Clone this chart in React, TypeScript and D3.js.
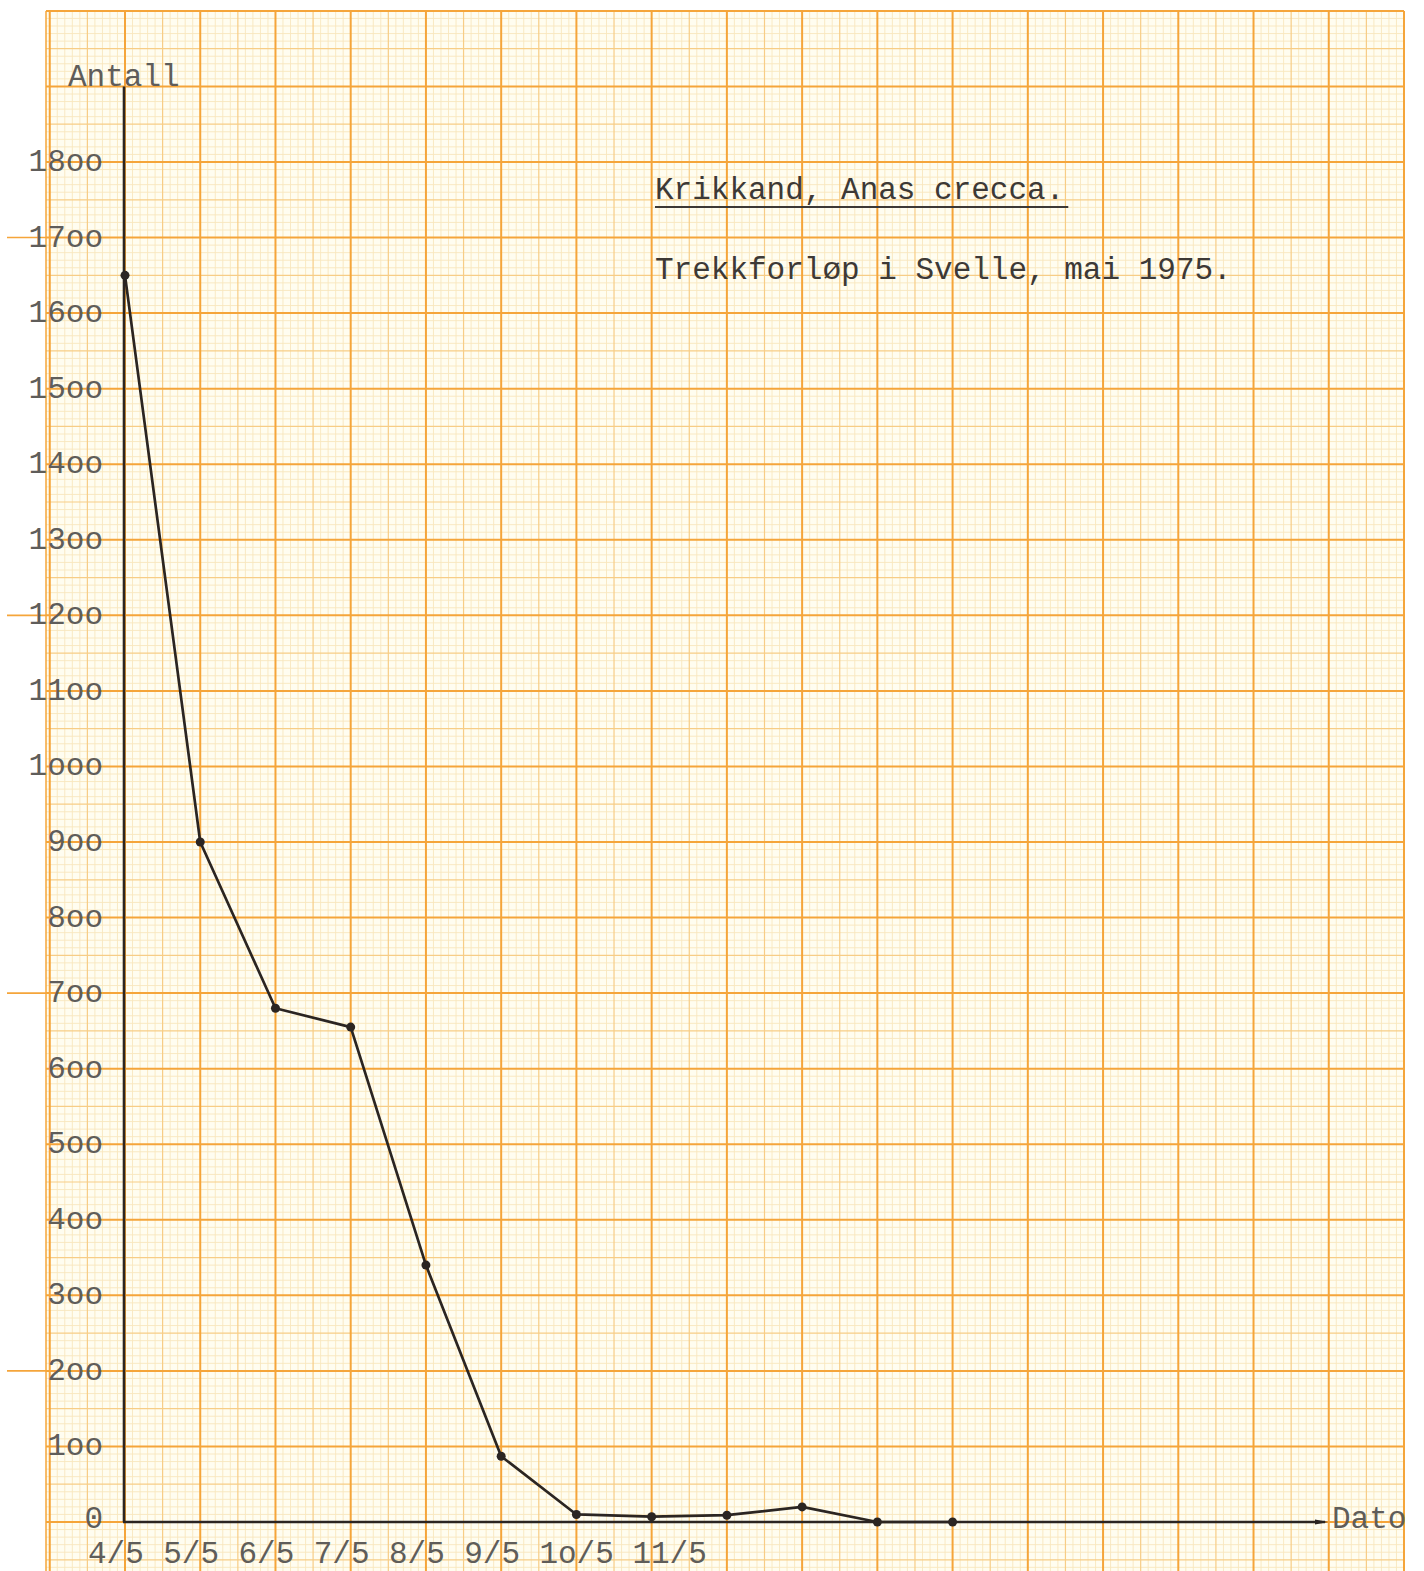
import React, { useEffect, useRef } from "react";
import * as d3 from "d3";

// observation days in May 1975 and counted birds
const days = [4, 5, 6, 7, 8, 9, 10, 11, 12, 13, 14, 15];
const counts = [1650, 900, 680, 655, 340, 87, 10, 7, 9, 20, 0, 0];

// typed labels (the typewriter used "o" for zero)
const xTickDays = [4, 5, 6, 7, 8, 9, 10, 11];
const xTickLabels = ["4/5", "5/5", "6/5", "7/5", "8/5", "9/5", "1o/5", "11/5"];
const yTicks = [100, 200, 300, 400, 500, 600, 700, 800, 900, 1000, 1100, 1200, 1300, 1400, 1500, 1600, 1700, 1800];
const yTickLabels = ["1oo", "2oo", "3oo", "4oo", "5oo", "6oo", "7oo", "8oo", "9oo", "1ooo", "11oo", "12oo", "13oo", "14oo", "15oo", "16oo", "17oo", "18oo"];
const marginMarks = [1700, 1200, 700, 200];

const W = 1424;
const H = 1571;
const FONT = "'Liberation Mono', 'DejaVu Sans Mono', monospace";
const PITCH = 18.6; // one typewriter character at 31px

const App = () => {
  const ref = useRef<SVGSVGElement | null>(null);

  useEffect(() => {
    drawChart();
    //eslint-disable-next-line
  }, []);

  function drawChart() {
    const svg = d3.select(ref.current);
    svg.selectAll("*").remove();

    const x = d3.scaleLinear().domain([4, 21]).range([125, 1404]);
    const y = d3.scaleLinear().domain([0, 1800]).range([1522, 162]);

    const paperLeft = 46;
    const paperTop = y(2000);
    const paperRight = x(21);

    svg.append("rect").attr("width", W).attr("height", H).attr("fill", "#ffffff");
    svg
      .append("rect")
      .attr("x", paperLeft)
      .attr("y", paperTop)
      .attr("width", paperRight - paperLeft)
      .attr("height", H - paperTop)
      .attr("fill", "#fffdf0");

    // graph paper: fine, half and main lines
    const grid = svg.append("g");
    const hVals = d3.range(-60, 2001, 10);
    const vVals = d3.range(30, 211, 1).map((d) => d / 10);

    const style = (i: number) =>
      i % 10 === 0
        ? { c: "#f5a53a", w: 2 }
        : i % 5 === 0
        ? { c: "#f7cd86", w: 1.2 }
        : { c: "#f8e7bd", w: 0.9 };

    const layers = [2, 1, 0];
    layers.forEach((layer) => {
      hVals.forEach((v) => {
        const i = Math.round(v / 10);
        const lv = i % 10 === 0 ? 0 : i % 5 === 0 ? 1 : 2;
        if (lv !== layer) return;
        const s = style(i);
        grid
          .append("line")
          .attr("x1", paperLeft)
          .attr("x2", paperRight)
          .attr("y1", y(v))
          .attr("y2", y(v))
          .attr("stroke", s.c)
          .attr("stroke-width", s.w);
      });
      vVals.forEach((d) => {
        const i = Math.round(d * 10);
        const lv = i % 10 === 0 ? 0 : i % 5 === 0 ? 1 : 2;
        if (lv !== layer) return;
        const s = style(i);
        grid
          .append("line")
          .attr("x1", x(d))
          .attr("x2", x(d))
          .attr("y1", paperTop)
          .attr("y2", H)
          .attr("stroke", s.c)
          .attr("stroke-width", s.w);
      });
    });
    // paper edge on the left
    grid
      .append("line")
      .attr("x1", paperLeft)
      .attr("x2", paperLeft)
      .attr("y1", paperTop)
      .attr("y2", H)
      .attr("stroke", "#f5a53a")
      .attr("stroke-width", 1.5);

    // ticks running past the paper edge
    marginMarks.forEach((v) => {
      grid
        .append("line")
        .attr("x1", 7)
        .attr("x2", paperLeft)
        .attr("y1", y(v))
        .attr("y2", y(v))
        .attr("stroke", "#f5a53a")
        .attr("stroke-width", 1.6);
    });

    const ink = "#2b2522";
    const axisEnd = x(19.95);

    // axes
    svg
      .append("line")
      .attr("x1", x(4) - 1)
      .attr("x2", x(4) - 1)
      .attr("y1", y(1900))
      .attr("y2", y(0))
      .attr("stroke", ink)
      .attr("stroke-width", 2.6);
    svg
      .append("line")
      .attr("x1", x(4) - 2)
      .attr("x2", axisEnd)
      .attr("y1", y(0))
      .attr("y2", y(0))
      .attr("stroke", ink)
      .attr("stroke-width", 2.6);
    svg
      .append("path")
      .attr("d", `M${axisEnd - 10},${y(0) - 2.5}L${axisEnd + 3},${y(0)}L${axisEnd - 10},${y(0) + 2.5}Z`)
      .attr("fill", ink);

    // data line
    const pts = days.map((d, i) => [x(d), y(counts[i])] as [number, number]);
    svg
      .append("path")
      .attr("d", d3.line()(pts))
      .attr("fill", "none")
      .attr("stroke", ink)
      .attr("stroke-width", 2.7)
      .attr("stroke-linejoin", "round");
    svg
      .append("g")
      .selectAll("circle")
      .data(pts)
      .enter()
      .append("circle")
      .attr("cx", (d) => d[0])
      .attr("cy", (d) => d[1])
      .attr("r", 4.5)
      .attr("fill", ink);

    const label = "#5f5d5a";

    // y tick labels
    svg
      .append("g")
      .selectAll("text")
      .data(yTicks)
      .enter()
      .append("text")
      .attr("x", 103)
      .attr("y", (d) => y(d) + 9)
      .attr("text-anchor", "end")
      .attr("font-family", FONT)
      .attr("font-size", 31)
      .attr("fill", label)
      .text((d, i) => yTickLabels[i]);
    svg
      .append("text")
      .attr("x", 103)
      .attr("y", y(0) + 6)
      .attr("text-anchor", "end")
      .attr("font-family", FONT)
      .attr("font-size", 31)
      .attr("fill", label)
      .text("0");

    // x tick labels, typed left of each line, never closer than one space
    let prevEnd = -Infinity;
    const xStarts = xTickDays.map((d, i) => {
      const s = Math.max(x(d) - 37, prevEnd + PITCH);
      prevEnd = s + xTickLabels[i].length * PITCH;
      return s;
    });
    svg
      .append("g")
      .selectAll("text")
      .data(xTickDays)
      .enter()
      .append("text")
      .attr("x", (d, i) => xStarts[i])
      .attr("y", 1563)
      .attr("font-family", FONT)
      .attr("font-size", 31)
      .attr("fill", label)
      .text((d, i) => xTickLabels[i]);

    // axis titles
    svg
      .append("text")
      .attr("x", 68)
      .attr("y", 86)
      .attr("font-family", FONT)
      .attr("font-size", 31)
      .attr("fill", label)
      .text("Antall");
    svg
      .append("text")
      .attr("x", 1332)
      .attr("y", 1528)
      .attr("font-family", FONT)
      .attr("font-size", 31)
      .attr("fill", label)
      .text("Dato");

    // title block
    const title = svg
      .append("text")
      .attr("x", 655)
      .attr("y", 199)
      .attr("font-family", FONT)
      .attr("font-size", 31)
      .attr("fill", "#3d3936")
      .text("Krikkand, Anas crecca.");
    const tw = (title.node() as SVGTextElement).getComputedTextLength();
    svg
      .append("line")
      .attr("x1", 655)
      .attr("x2", 655 + tw + 4)
      .attr("y1", 207)
      .attr("y2", 207)
      .attr("stroke", "#3d3936")
      .attr("stroke-width", 2);
    svg
      .append("text")
      .attr("x", 655)
      .attr("y", 279)
      .attr("font-family", FONT)
      .attr("font-size", 31)
      .attr("fill", "#3d3936")
      .text("Trekkforløp i Svelle, mai 1975.");
  }

  return (
    <svg
      ref={ref}
      width={W}
      height={H}
      style={{ position: "absolute", left: 0, top: 0, display: "block" }}
    />
  );
};

export default App;
